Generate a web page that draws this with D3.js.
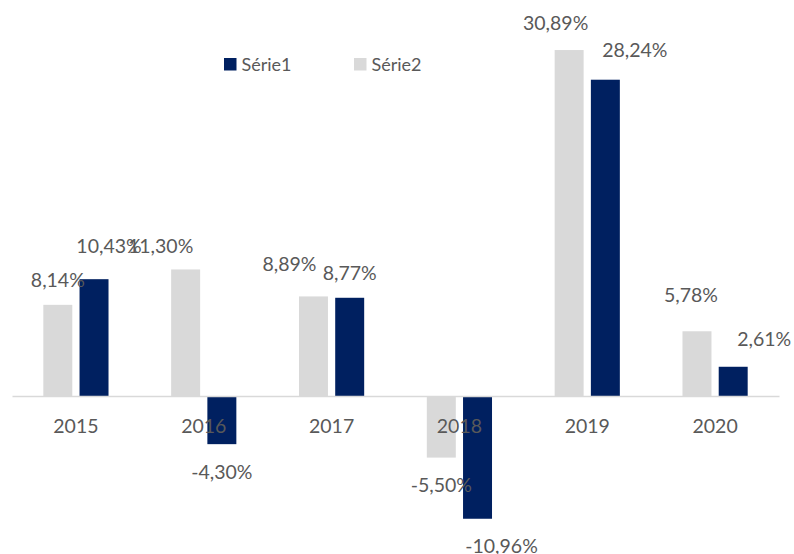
<!DOCTYPE html>
<html>
<head>
<meta charset="utf-8">
<script src="https://cdn.jsdelivr.net/npm/d3@7"></script>
<style>
    body { margin: 0; background: #fff; }
    svg { display: block; font-family: Lato, "Open Sans", sans-serif; }
</style>
</head>
<body>
<svg id="chart" width="794" height="554"></svg>
<script>
const years = ["2015", "2016", "2017", "2018", "2019", "2020"];
const seriesNames = ["Série1", "Série2"];
const serie1 = [10.43, -4.30, 8.77, -10.96, 28.24, 2.61];
const serie2 = [8.14, 11.30, 8.89, -5.50, 30.89, 5.78];

// label nudges (px) – the labels were moved by hand in the original
const nudge1 = [[15, -8.5], [0, 0], [0, 0], [24, 0], [29.5, -5], [31, -3]];
const nudge2 = [[0, 0], [-25, 1.5], [-24, -7.5], [0, 0], [-13.5, -2.5], [-6, -12]];

const colors = {"Série1": "#002060", "Série2": "#d9d9d9"};
const textColor = "#595959";

const rows = years.map((year, i) => ({
    year,
    values: [
        {key: "Série2", value: serie2[i], nudge: nudge2[i]},
        {key: "Série1", value: serie1[i], nudge: nudge1[i]}
    ]
}));

const fr = d3.formatLocale({decimal: ",", thousands: " ", grouping: [3], currency: ["", " €"], minus: "-"});
const pct = v => fr.format(".2f")(v) + "%";

const svg = d3.select("#chart");

const x0 = d3.scaleBand()
    .domain(years)
    .range([12, 779])
    .paddingInner(0.49)
    .paddingOuter(0.245);

const x1 = d3.scaleBand()
    .domain(["Série2", "Série1"])
    .range([0, x0.bandwidth()])
    .paddingInner(0.2);

const y = d3.scaleLinear()
    .domain([-15, 35])
    .range([564, 4]);

const groups = svg.append("g")
    .selectAll("g")
    .data(rows)
    .enter()
    .append("g")
    .attr("transform", d => "translate(" + x0(d.year) + ",0)");

groups.selectAll("rect")
    .data(d => d.values)
    .enter()
    .append("rect")
    .attr("x", d => x1(d.key))
    .attr("y", d => y(Math.max(0, d.value)))
    .attr("width", x1.bandwidth())
    .attr("height", d => Math.abs(y(d.value) - y(0)))
    .style("fill", d => colors[d.key]);

// zero line + category labels, drawn over the bars
const xAxis = svg.append("g")
    .attr("transform", "translate(0," + y(0) + ")")
    .call(d3.axisBottom(x0).tickSize(0).tickPadding(0));
xAxis.select(".domain")
    .attr("stroke", "#d9d9d9")
    .attr("stroke-width", 1.5);
xAxis.selectAll("text")
    .attr("dy", null)
    .attr("y", 37)
    .attr("fill", textColor)
    .style("font-size", "19.5px")
    .style("font-family", "Lato, 'Open Sans', sans-serif");

// data labels
groups.selectAll("text.lbl")
    .data(d => d.values)
    .enter()
    .append("text")
    .attr("class", "lbl")
    .attr("x", d => x1(d.key) + x1.bandwidth() / 2 + d.nudge[0])
    .attr("y", d => (d.value >= 0 ? y(d.value) - 17.5 : y(d.value) + 34.5) + d.nudge[1])
    .attr("text-anchor", "middle")
    .attr("fill", textColor)
    .style("font-size", "19.5px")
    .text(d => pct(d.value));

// legend
const legend = svg.append("g")
    .selectAll("g")
    .data(seriesNames)
    .enter()
    .append("g")
    .attr("transform", (d, i) => "translate(" + (224 + i * 130) + ",58)");
legend.append("rect")
    .attr("width", 12.5)
    .attr("height", 12.5)
    .style("fill", d => colors[d]);
legend.append("text")
    .attr("x", 17.5)
    .attr("y", 12.8)
    .attr("fill", textColor)
    .style("font-size", "18px")
    .text(d => d);
</script>
</body>
</html>
